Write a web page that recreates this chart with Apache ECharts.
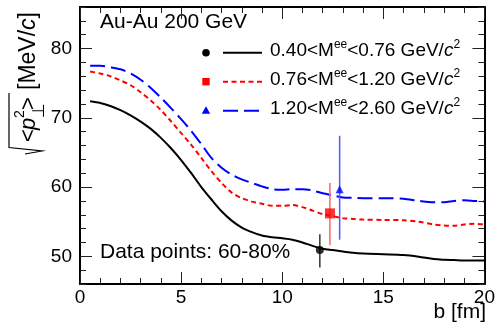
<!DOCTYPE html>
<html><head><meta charset="utf-8">
<script src="https://cdn.jsdelivr.net/npm/echarts@6/dist/echarts.min.js"></script>
<style>html,body{margin:0;padding:0;background:#fff;}#c{width:498px;height:333px;}</style>
</head><body><div id="c"></div>
<script>
// ---- data ----
const bValues = [0.5,1,1.5,2,2.5,3,3.5,4,4.5,5,5.5,6,6.5,7,7.5,8,8.5,9,9.5,10,10.5,11,11.5,12,12.5,13,13.5,14,15,16,16.75,17.5,18,18.5,19,19.5,20];
const lowMass = [72.4,72.15,71.7,71.1,70.35,69.45,68.4,67.1,65.6,63.9,62.0,60.0,58.2,56.5,55.15,54.15,53.5,53.0,52.75,52.6,52.4,52.0,51.5,51.1,50.9,50.7,50.5,50.4,50.3,50.2,49.95,49.6,49.5,49.45,49.4,49.4,49.4];
const midMass = [76.7,76.4,76.0,75.4,74.7,73.7,72.5,71.1,69.5,67.8,66.1,64.2,62.3,60.6,59.2,58.4,57.9,57.6,57.3,57.3,57.4,57.1,56.6,56.1,55.8,55.5,55.4,55.3,55.25,55.2,55.0,54.6,54.45,54.4,54.6,54.7,54.6];
const highMass = [77.5,77.5,77.3,77.0,76.4,75.5,74.3,72.9,71.4,69.8,68.1,66.2,64.2,62.8,61.8,61.1,60.6,60.1,59.7,59.6,59.7,59.7,59.5,59.1,58.8,58.5,58.45,58.4,58.4,58.3,58.0,57.8,57.8,58.0,58.1,58.0,57.9];
const pointB = [11.86, 12.36, 12.84];
const pointV = [50.9, 56.2, 59.7];
const pointLo = [48.4, 51.6, 52.4];
const pointHi = [53.2, 60.6, 67.4];
const xTicks = [0,5,10,15,20];
const yTickLabels = [50,60,70,80];
const yMinorTicks = [46,48,50,52,54,56,58,60,62,64,66,68,70,72,74,76,78,80,82,84,86];
const legendNames = ['0.40<M','0.76<M','1.20<M'];
const legendHigh = ['<0.76 GeV/','<1.20 GeV/','<2.60 GeV/'];

const FONT = '"Liberation Sans", Arial, sans-serif';
const zip = (a,b) => a.map((x,i)=>[x,b[i]]);
const colors = ['#000000','#ff0000','#0000ff'];
const barColors = ['#333333','#f26b6b','#4a5cff'];
const symbols = ['circle','rect','triangle'];
const symSizes = [8,10,8];

const chart = echarts.init(document.getElementById('c'), null, {renderer:'canvas'});

function yAxisBase(pos){
  return {type:'value', position:pos, min:46, max:86, gridIndex:0, splitLine:{show:false}};
}
const yAxes = [
  Object.assign(yAxisBase('left'), {
    axisLine:{show:true, lineStyle:{color:'#000', width:2}},
    axisTick:{show:true, inside:true, length:6, customValues: yMinorTicks, lineStyle:{color:'#222', width:1}},
    axisLabel:{show:true, customValues: yTickLabels, margin:8, fontSize:19, color:'#000', fontFamily:FONT}
  }),
  Object.assign(yAxisBase('left'), {
    axisLine:{show:false},
    axisTick:{show:true, inside:true, length:12, customValues: yTickLabels, lineStyle:{color:'#222', width:1}},
    axisLabel:{show:false}
  }),
  Object.assign(yAxisBase('right'), {
    axisLine:{show:true, lineStyle:{color:'#000', width:2}},
    axisTick:{show:true, inside:true, length:6, customValues: yMinorTicks, lineStyle:{color:'#222', width:1}},
    axisLabel:{show:false}
  }),
  Object.assign(yAxisBase('right'), {
    axisLine:{show:false},
    axisTick:{show:true, inside:true, length:12, customValues: yTickLabels, lineStyle:{color:'#222', width:1}},
    axisLabel:{show:false}
  })
];
function xAxisBase(pos, showLabel){
  return {type:'value', position:pos, min:0, max:20, interval:5,
    splitLine:{show:false},
    axisLine:{show:true, onZero:false, lineStyle:{color:'#000', width:2}},
    axisTick:{show:true, inside:true, length:12, lineStyle:{color:'#222', width:1}},
    minorTick:{show:true, splitNumber:5, length:6, lineStyle:{color:'#222', width:1}},
    axisLabel:{show:showLabel, margin:4, fontSize:19, color:'#000', fontFamily:FONT}
  };
}

const lineSeries = [lowMass, midMass, highMass].map((arr,i)=>({
  type:'line', data: zip(bValues, arr), showSymbol:false, smooth:0.3,
  xAxisIndex:0, yAxisIndex:0, z:3,
  lineStyle:{color:colors[i], width:2, type: i===0 ? 'solid' : (i===1 ? [5,3.5] : [15,6])}
}));

const errSeries = {
  type:'custom', xAxisIndex:0, yAxisIndex:0, z:4,
  data: pointB.map((b,i)=>[b, pointV[i], pointLo[i], pointHi[i], i]),
  renderItem: function(params, api){
    const lo = api.coord([api.value(0), api.value(2)]);
    const hi = api.coord([api.value(0), api.value(3)]);
    return {type:'line', shape:{x1:lo[0], y1:lo[1], x2:hi[0], y2:hi[1]},
      style:{stroke: barColors[api.value(4)], lineWidth:1.5}};
  }
};
const pointSeries = pointB.map((b,i)=>({
  type:'scatter', xAxisIndex:0, yAxisIndex:0, z:5,
  data:[[b, pointV[i]]], symbol:symbols[i], symbolSize:symSizes[i],
  itemStyle:{color:colors[i]}
}));

const legendGraphics = [];
const rowY = [52.7, 81.7, 110.7];
for (let i=0;i<3;i++){
  const y = rowY[i];
  if (i===0) legendGraphics.push({type:'circle', shape:{cx:206, cy:y, r:3.8}, style:{fill:colors[i]}});
  if (i===1) legendGraphics.push({type:'rect', shape:{x:202.3, y:y-3.7, width:7.4, height:7.4}, style:{fill:colors[i]}});
  if (i===2) legendGraphics.push({type:'polygon', shape:{points:[[206,y-4.5],[210.2,y+3],[201.8,y+3]]}, style:{fill:colors[i]}});
  legendGraphics.push({type:'line', shape:{x1:223, y1:y, x2:262, y2:y},
    style:{stroke:colors[i], lineWidth:2, lineDash: i===0 ? null : (i===1 ? [5,3.5] : [15,6])}});
  legendGraphics.push({type:'text', x:270, y:y-3.5, style:{
    text:'{a|'+legendNames[i]+'}{s|ee}{a|'+legendHigh[i]+'}{i|c}{s|2}',
    verticalAlign:'middle', align:'left',
    rich:{
      a:{fontSize:19, fontFamily:FONT, fill:'#000', lineHeight:22, verticalAlign:'bottom'},
      i:{fontSize:19, fontFamily:FONT, fontStyle:'italic', fill:'#000', lineHeight:22, verticalAlign:'bottom'},
      s:{fontSize:12, fontFamily:FONT, fill:'#000', lineHeight:22, verticalAlign:'top'}
    }}});
}

const titleGroup = {
  type:'group', x:40, y:156, rotation:Math.PI/2,
  children:[
    {type:'text', x:14, y:-11, style:{text:'<', fontSize:22, fontFamily:FONT, fill:'#000', verticalAlign:'middle', align:'left'}},
    {type:'text', x:26, y:-11, style:{text:'p', fontSize:22, fontFamily:FONT, fontStyle:'italic', fill:'#000', verticalAlign:'middle', align:'left'}},
    {type:'text', x:38, y:-19.5, style:{text:'2', fontSize:14, fontFamily:FONT, fill:'#000', verticalAlign:'middle', align:'left'}},
    {type:'text', x:38, y:0, style:{text:'⊥', fontSize:17, fontFamily:'"DejaVu Sans", sans-serif', fill:'#000', verticalAlign:'middle', align:'left'}},
    {type:'text', x:46, y:-11, style:{text:'>', fontSize:22, fontFamily:FONT, fill:'#000', verticalAlign:'middle', align:'left'}},
    {type:'text', x:66, y:-11, style:{
      text:'{a|[MeV/}{i|c}{a|]}', verticalAlign:'middle', align:'left',
      rich:{a:{fontSize:23, fontFamily:FONT, fill:'#000'}, i:{fontSize:23, fontFamily:FONT, fontStyle:'italic', fill:'#000'}}}}
  ]
};
const sqrtSign = {type:'polyline', shape:{points:[[25,154],[42,151],[9,147.5],[9,93]]},
  style:{stroke:'#000', lineWidth:1.2, fill:null}};

chart.setOption({
  animation:false,
  backgroundColor:'#fff',
  grid:{left:80, right:12, top:7, bottom:49, containLabel:false},
  xAxis:[xAxisBase('bottom', true), xAxisBase('top', false)],
  yAxis: yAxes,
  series:[...lineSeries, errSeries, ...pointSeries],
  graphic:[
    {type:'text', x:100, y:22.5, style:{text:'Au-Au 200 GeV', fontSize:21, fontFamily:FONT, fill:'#000', verticalAlign:'middle'}},
    {type:'text', x:100, y:252.5, style:{text:'Data points: 60-80%', fontSize:21, fontFamily:FONT, fill:'#000', verticalAlign:'middle'}},
    {type:'text', x:486, y:312, style:{text:'b [fm]', fontSize:21, fontFamily:FONT, fill:'#000', verticalAlign:'middle', align:'right'}},
    titleGroup, sqrtSign,
    ...legendGraphics
  ]
});
</script></body></html>
